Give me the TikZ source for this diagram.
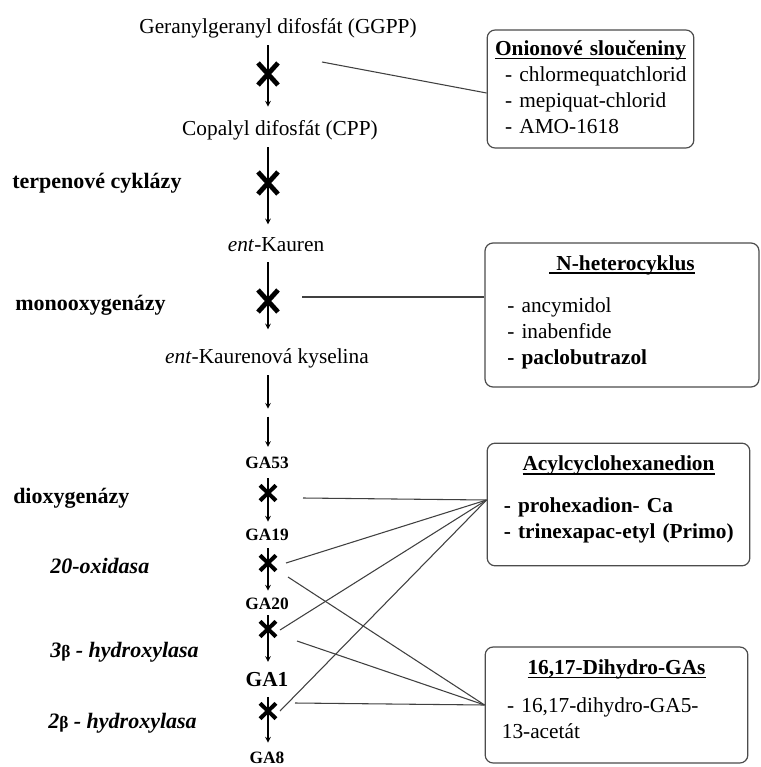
\documentclass[tikz,border=0pt]{standalone}
\usepackage{fontspec}
\setmainfont{Liberation Serif}
\usetikzlibrary{shapes,arrows,positioning,calc}
\newsavebox{\titlebox}
\newcommand{\boxtitle}[1]{\makebox[\hsize]{\sbox{\titlebox}{\textbf{#1}}\rlap{\rule[-3pt]{\wd\titlebox}{1.3pt}}\usebox{\titlebox}}}
\newcommand{\boxpad}[1]{\par\vspace{#1}\hrule height 0pt}

\begin{document}
\begin{tikzpicture}[
    x=0.75pt, y=-0.75pt,
    compound/.style={inner sep=2pt, font=\fontsize{16}{19}\selectfont},
    gacomp/.style={inner sep=2pt, font=\fontsize{13}{15}\selectfont\bfseries},
    enzyme/.style={anchor=west, inner sep=0pt, font=\fontsize{16.5}{19}\selectfont\bfseries},
    subenzyme/.style={enzyme, font=\fontsize{16.5}{19}\selectfont\bfseries\itshape},
    blocker/.style={cross out, draw, line width=3.6pt, minimum width=11.4pt, minimum height=12.9pt, inner sep=0pt},
    smallblocker/.style={blocker, line width=3pt, minimum width=9pt, minimum height=8.5pt},
    arrow/.style={->,>=stealth, line width=0.9pt, shorten <=3.5pt, shorten >=8pt},
    gaarrow/.style={arrow, shorten >=3.5pt},
    link/.style={draw=black!75, line width=0.8pt},
    inhibitor/.style={rectangle, draw=black!70, line width=0.9pt, rounded corners=6pt, align=left, inner xsep=4pt, font=\fontsize{16}{19.5}\selectfont}
]
\useasboundingbox (0,0) rectangle (760,767);

% Pathway
\node[compound] (ggpp) at (278,28) {Geranylgeranyl difosfát (GGPP)};
\node[compound] (cpp) at (280,130) {Copalyl difosfát (CPP)};
\node[compound] (kauren) at (276,245) {\textit{ent}-Kauren};
\node[compound] (kacid) at (267,358) {\textit{ent}-Kaurenová kyselina};
\coordinate (gap) at (268,414);
\node[gacomp] (ga53) at (267,463) {GA53};
\node[gacomp] (ga19) at (267,535) {GA19};
\node[gacomp] (ga20) at (267,604) {GA20};
\node[gacomp, font=\fontsize{16}{19}\selectfont\bfseries] (ga1) at (267,680) {GA1};
\node[gacomp] (ga8) at (267,758) {GA8};

% Blocked steps
\node[blocker] (x1) at (268,74) {};
\node[blocker] (x2) at (268,183) {};
\node[blocker] (x3) at (268,301) {};
\node[smallblocker] (x4) at (268,493) {};
\node[smallblocker] (x5) at (268,563) {};
\node[smallblocker] (x6) at (268,629) {};
\node[smallblocker] (x7) at (268,711) {};

% Arrows
\draw[arrow] (x1 |- ggpp.south) -- (x1 |- cpp.north);
\draw[arrow] (x2 |- cpp.south) -- (x2 |- kauren.north);
\draw[arrow, shorten <=5.5pt, shorten >=12pt] (x3 |- kauren.south) -- (x3 |- kacid.north);
\draw[arrow, shorten >=4pt] (gap |- kacid.south) -- (gap);
\draw[arrow, shorten <=2pt, shorten >=5.5pt] (gap) -- (gap |- ga53.north);
\draw[gaarrow, shorten <=5pt] (x4 |- ga53.south) -- (x4 |- ga19.north);
\draw[gaarrow] (x5 |- ga19.south) -- (x5 |- ga20.north);
\draw[gaarrow, shorten <=2pt, shorten >=6pt] (x6 |- ga20.south) -- (x6 |- ga1.north);
\draw[gaarrow, shorten <=5pt, shorten >=5pt] (x7 |- ga1.south) -- (x7 |- ga8.north);

% Enzymes
\node[enzyme] (terp) at (12,183) {terpenové cyklázy};
\node[enzyme] (mono) at (15,305) {monooxygenázy};
\node[enzyme] (diox) at (13,498) {dioxygenázy};
\node[subenzyme] (ox20) at (50,566) {20-oxidasa};
\node[subenzyme] (hyd3) at (50,652) {3{\upshape\fontsize{13}{15}\selectfont β} - hydroxylasa};
\node[subenzyme] (hyd2) at (48,723) {2{\upshape\fontsize{13}{15}\selectfont β} - hydroxylasa};

% Inhibitors
\node[inhibitor, minimum width=155pt, minimum height=88.5pt, text width=146pt] (onion) at (590.5,89) {%
\boxtitle{Onionové sloučeniny}\\
\hspace*{9pt}- chlormequatchlorid\\
\hspace*{9pt}- mepiquat-chlorid\\
\hspace*{9pt}- AMO-1618\boxpad{3pt}};
\node[inhibitor, minimum width=205.5pt, minimum height=108pt, text width=196pt] (nhet) at (622,315) {%
\boxtitle{\ N-heterocyklus}\\[12pt]
\hspace*{12pt}- ancymidol\\
\hspace*{12pt}- inabenfide\\
\hspace*{12pt}\textbf{- paclobutrazol}\boxpad{4.5pt}};
\node[inhibitor, minimum width=197pt, minimum height=92pt, text width=188pt] (acyl) at (618.5,504.5) {%
\boxtitle{Acylcyclohexanedion}\\[12pt]
\hspace*{8pt}\textbf{- prohexadion- Ca}\\
\hspace*{8pt}\textbf{- trinexapac-etyl (Primo)}\boxpad{7.5pt}};
\node[inhibitor, minimum width=197pt, minimum height=87pt, text width=188pt] (dihydro) at (616.5,705) {%
\boxtitle{16,17-Dihydro-GAs}\\[9pt]
\hspace*{12pt}- 16,17-dihydro-GA5-\\
\hspace*{8pt}13-acetát\boxpad{9pt}};

% Links to blocked steps
\coordinate (c-ggpp) at (322,62);
\coordinate (c-kaur) at (302,297);
\coordinate (c-53) at (303,498);
\coordinate (c-19a) at (286,563);
\coordinate (c-19b) at (288,577);
\coordinate (c-20a) at (280,630);
\coordinate (c-20b) at (297,641);
\coordinate (c-1a) at (280,711);
\coordinate (c-1b) at (295,703);
\coordinate (acyl-in) at ($(acyl.west)+(0,-4.5)$);

\draw[link] (c-ggpp) -- ($(onion.west)+(0,4)$);
\draw[link] (c-kaur) -- (c-kaur -| nhet.west);
\draw[link] (c-53) -- (acyl-in);
\draw[link] (c-19a) -- (acyl-in);
\draw[link] (c-20a) -- (acyl-in);
\draw[link] (c-1a) -- (acyl-in);
\draw[link] (c-19b) -- (dihydro.west);
\draw[link] (c-20b) -- (dihydro.west);
\draw[link] (c-1b) -- (dihydro.west);

\end{tikzpicture}
\end{document}
